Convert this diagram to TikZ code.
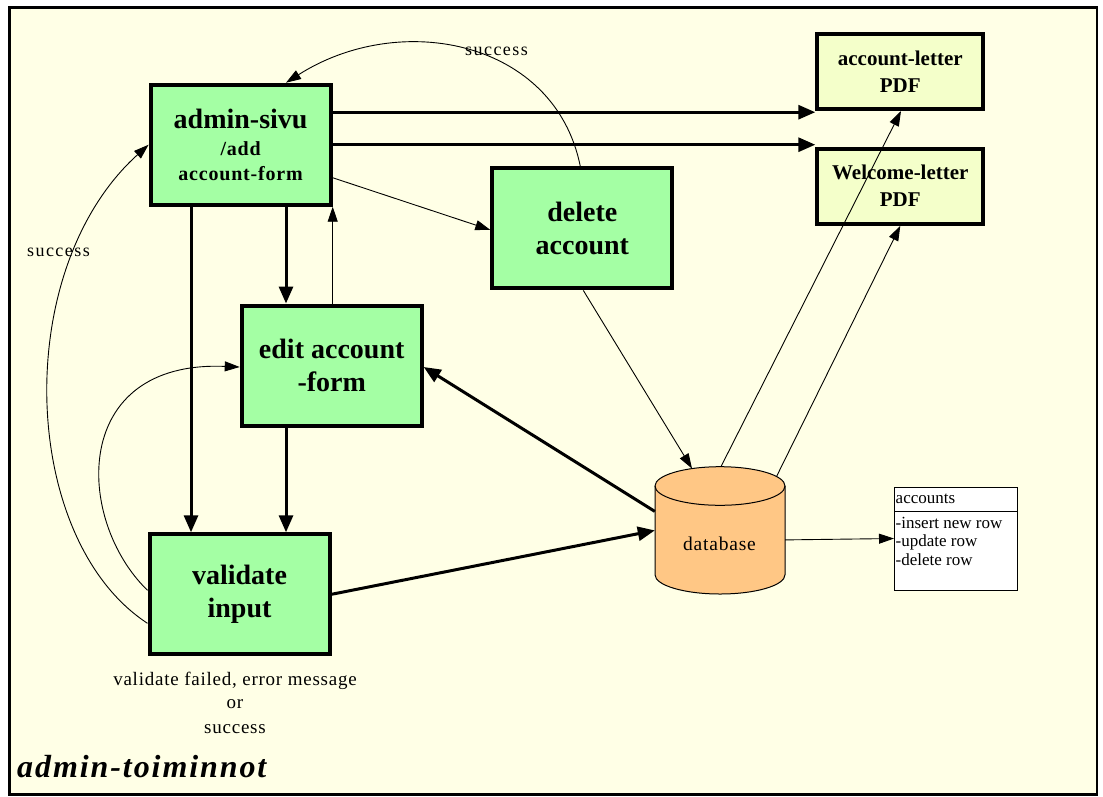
\documentclass[tikz,border=0pt]{standalone}
\usepackage{fontspec}
\setmainfont{Liberation Serif}
\newfontfamily\lsA[LetterSpace=4]{Liberation Serif}
\newfontfamily\lsB[LetterSpace=8]{Liberation Serif}
\newfontfamily\lsT[LetterSpace=6]{Liberation Serif}
\usetikzlibrary{arrows.meta,calc}
\definecolor{paper}{HTML}{FFFFE6}
\definecolor{procgreen}{HTML}{A4FFA4}
\definecolor{pdfyellow}{HTML}{F4FFCA}
\definecolor{dborange}{HTML}{FFC785}

\begin{document}
\begin{tikzpicture}[x=1pt,y=-1pt,
  proc/.style={draw, line width=4pt, fill=procgreen, minimum width=180pt,
    minimum height=120pt, inner sep=0pt, align=center,
    font=\bfseries\fontsize{28}{33}\selectfont},
  docbox/.style={draw, line width=4pt, fill=pdfyellow, minimum width=166pt,
    minimum height=75pt, inner sep=0pt, align=center,
    font=\bfseries\fontsize{21}{27}\selectfont},
  heavy/.style={line width=3pt, -{Triangle[length=17pt,width=14pt]}},
  light/.style={line width=0.9pt, -{Triangle[length=15pt,width=10pt]}},
  returnpath/.style={line width=0.9pt, -{Triangle[length=15pt,width=10pt]}},
  note/.style={font=\lsB\fontsize{18}{24}\selectfont, inner sep=0pt},
  rowtext/.style={font=\fontsize{17}{19}\selectfont, inner sep=0pt, anchor=base west},
]
\useasboundingbox (0,0) rectangle (1103,796);
\fill[white] (0,0) rectangle (1103,796);
\draw[line width=2.5pt, fill=paper] (9.5,7.5) rectangle (1097,794.5);

% process boxes
\node[proc] (admin) at (240.6,144.7) {admin-sivu\\[-6pt]
  {\lsA\fontsize{20}{23}\selectfont /add}\\[-8pt]
  {\lsA\fontsize{20}{23}\selectfont account-form}};
\node[proc] (delete) at (582.3,228.4) {delete\\account};
\node[proc] (edit) at (331.7,365.5) {edit account\\-form};
\node[proc] (validate) at (239.5,594.3) {validate\\input};

% generated letters
\node[docbox] (acct) at (900.3,71.5) {account-letter\\PDF};
\node[docbox] (wel) at (900.3,186.2) {Welcome-letter\\PDF};

% database cylinder
\node[minimum width=130pt, minimum height=127.3pt, inner sep=0pt] (db) at (720,530.4) {};
\path[draw, line width=1pt, fill=dborange] (655,486) -- (655,574.7)
  arc[start angle=180, end angle=360, x radius=65pt, y radius=19.3pt]
  -- (785,486)
  arc[start angle=0, end angle=180, x radius=65pt, y radius=19.3pt] -- cycle;
\draw[line width=1pt] (655,486)
  arc[start angle=180, end angle=360, x radius=65pt, y radius=19.3pt];
\node[font=\lsA\fontsize{19.5}{22}\selectfont, anchor=base, inner sep=0pt] (dbtext) at (719.5,550) {database};

% table box
\node[draw, line width=1pt, fill=white, minimum width=123pt, minimum height=103pt, inner sep=0pt] (tbl) at (956,538.5) {};
\draw[line width=1pt] ([yshift=-24.5pt]tbl.north west) -- ([yshift=-24.5pt]tbl.north east);
\node[rowtext] (tname) at (895.5,503) {accounts};
\node[rowtext] (r1) at (895.5,528) {-insert new row};
\node[rowtext] (r2) at (895.5,546.5) {-update row};
\node[rowtext] (r3) at (895.5,565) {-delete row};

% connectors
\draw[heavy] ([yshift=32.5pt]admin.east) -- ([yshift=32.5pt]admin.east -| acct.west);
\draw[heavy] (admin.east) -- (admin.east -| wel.west);
\draw[light] ([yshift=-33pt]admin.east) -- ([yshift=-1.5pt]delete.west);
\draw[heavy] ([xshift=-49.6pt]admin.south) -- ([xshift=-49.6pt]admin.south |- validate.north);
\draw[heavy] ([xshift=45.4pt]admin.south) -- ([xshift=45.4pt]admin.south |- edit.north);
\draw[light] ([xshift=1pt]edit.north) -- ([xshift=1pt]edit.north |- admin.south);
\draw[heavy] ([xshift=-45.7pt]edit.south) -- ([xshift=-45.7pt]edit.south |- validate.north);
\draw[heavy] (validate.east) -- (db.west);
\draw[heavy] ([yshift=19pt]db.west) -- ([yshift=-1.5pt]edit.east);
\draw[light] ([xshift=1pt]delete.south) -- ([xshift=-28pt,yshift=-2pt]db.north);
\draw[light] ([xshift=1pt]db.north) -- ([xshift=0.7pt]acct.south);
\draw[light] ([xshift=56.5pt,yshift=-10pt]db.north) -- (wel.south);
\draw[light] ([yshift=-9.5pt]db.east) -- (tbl.west);

% return paths
\draw[returnpath] ([xshift=-2pt]delete.north)
  .. controls (555,40) and (400,10) .. ([xshift=45.4pt]admin.north);
\draw[returnpath] ([yshift=-29pt]validate.west)
  .. controls (20,540) and (10,270) .. (admin.west);
\draw[returnpath] ([yshift=4pt]validate.west)
  .. controls (75,520) and (70,360) .. ([yshift=-1.5pt]edit.west);

% labels
\node[note, anchor=base west] (lbltop) at (465,55) {success};
\node[note, anchor=base west] (lblleft) at (27,256.5) {success};
\node[font=\lsA\fontsize{19}{24}\selectfont, inner sep=0pt, anchor=base] (lblbottom) at (235,685) {validate failed, error message};
\node[font=\lsA\fontsize{19}{24}\selectfont, inner sep=0pt, anchor=base] (lblor) at (235,708.5) {or};
\node[font=\lsA\fontsize{19}{24}\selectfont, inner sep=0pt, anchor=base] (lblsucc) at (235,733) {success};

\node[font=\lsT\bfseries\itshape\fontsize{32}{32}\selectfont, inner sep=0pt, anchor=base west] (title) at (17,777) {admin-toiminnot};
\end{tikzpicture}
\end{document}
